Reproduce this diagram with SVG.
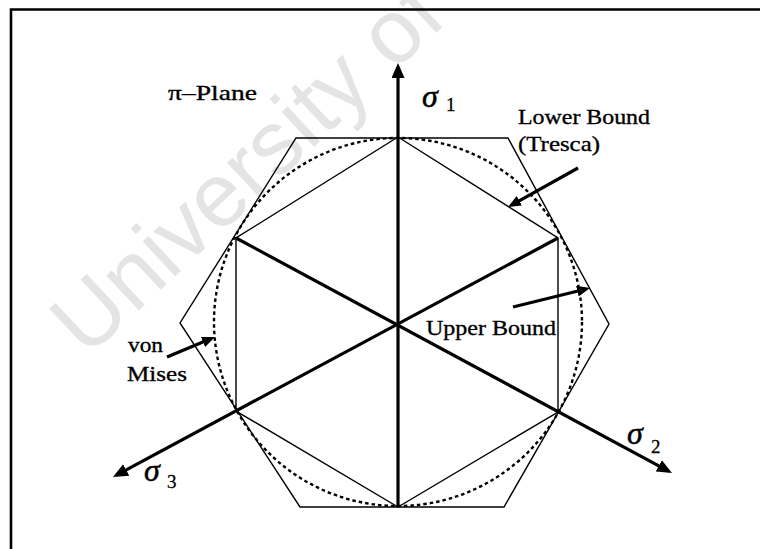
<svg xmlns="http://www.w3.org/2000/svg" width="760" height="549" viewBox="0 0 760 549">
<style>
.thin{fill:none;stroke:#000;stroke-width:1.4;stroke-linejoin:miter}
.thick{fill:none;stroke:#000;stroke-width:3.2}
.dash{fill:none;stroke:#000;stroke-width:2.4;stroke-dasharray:3.5 3}
.lbl{font-family:"Liberation Serif","Times New Roman",serif;font-size:22px;fill:#000;stroke:#000;stroke-width:0.35}
.sig{font-family:"Liberation Serif","Times New Roman",serif;font-size:32px;font-style:italic;fill:#000;stroke:#000;stroke-width:0.5}
.sub{font-family:"Liberation Serif","Times New Roman",serif;font-size:19px;fill:#000;stroke:#000;stroke-width:0.3}
.wm{font-family:"Liberation Sans",Arial,sans-serif;font-size:90px;fill:#e4e4e4}
</style>
<defs>
<marker id="ax" markerUnits="userSpaceOnUse" markerWidth="16" markerHeight="14" refX="11" refY="6.5" orient="auto">
<path d="M0,0 L15,6.5 L0,13 Z" fill="#000"/>
</marker>
<marker id="pt" markerUnits="userSpaceOnUse" markerWidth="14" markerHeight="12" refX="9" refY="5.5" orient="auto">
<path d="M0,0 L13,5.5 L0,11 Z" fill="#000"/>
</marker>
</defs>
<rect width="760" height="549" fill="#fff"/>
<text class="wm" transform="translate(86.6,358.8) rotate(-43)">University of</text>
<g id="frame">
<path d="M11,549 V9.5 H760" fill="none" stroke="#000" stroke-width="2.6"/>
</g>
<g id="vonmises-circle">
<circle class="dash" cx="398" cy="322" r="184"/>
</g>
<g id="upper-bound-hexagon">
<polygon class="thin" points="296,138 508,138 609,324 504,507 300,507 180,323"/>
</g>
<g id="lower-bound-hexagon">
<polygon class="thin" points="398,137 558,238 558,412 398,507 236,411 236,238"/>
</g>
<g id="connectors">
<line class="thick" x1="398" y1="507" x2="398" y2="67" marker-end="url(#ax)"/>
<line class="thick" x1="236" y1="238" x2="668.5" y2="471.1" marker-end="url(#ax)"/>
<line class="thick" x1="558" y1="238" x2="116.5" y2="475.1" marker-end="url(#ax)"/>
<line class="thick" x1="578" y1="168" x2="511.5" y2="205.1" marker-end="url(#pt)"/>
<line class="thick" x1="513" y1="307" x2="586.1" y2="289" marker-end="url(#pt)"/>
<line class="thick" x1="167" y1="357" x2="211.3" y2="338.5" marker-end="url(#pt)"/>
</g>
<g id="label-pi-plane">
<text class="lbl" x="168" y="100" textLength="89" lengthAdjust="spacingAndGlyphs">π–Plane</text>
</g>
<g id="label-sigma1">
<text class="sig" x="422" y="107">σ</text><text class="sub" x="446" y="111">1</text>
</g>
<g id="label-sigma2">
<text class="sig" x="627" y="444">σ</text><text class="sub" x="651" y="453">2</text>
</g>
<g id="label-sigma3">
<text class="sig" x="144" y="481">σ</text><text class="sub" x="167" y="488">3</text>
</g>
<g id="label-lower-bound">
<text class="lbl" x="518" y="124" textLength="132" lengthAdjust="spacingAndGlyphs">Lower Bound</text>
<text class="lbl" x="518" y="151" textLength="82" lengthAdjust="spacingAndGlyphs">(Tresca)</text>
</g>
<g id="label-upper-bound">
<text class="lbl" x="426" y="335" textLength="130" lengthAdjust="spacingAndGlyphs">Upper Bound</text>
</g>
<g id="label-von-mises">
<text class="lbl" x="128" y="352" textLength="35" lengthAdjust="spacingAndGlyphs">von</text>
<text class="lbl" x="127" y="381" textLength="60" lengthAdjust="spacingAndGlyphs">Mises</text>
</g>
</svg>
